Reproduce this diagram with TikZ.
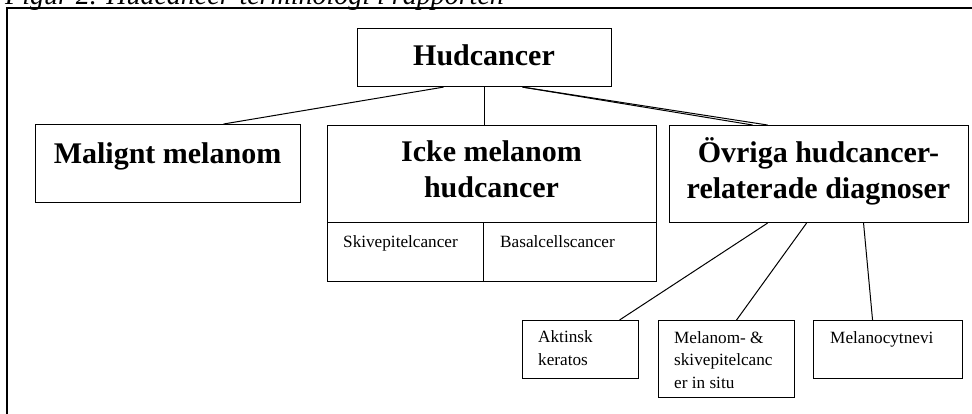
\documentclass[tikz,border=0pt]{standalone}
\usepackage{fontspec}
\setmainfont{Liberation Serif}
\usetikzlibrary{calc}
\newcommand\hbigtext{\fontsize{30}{35.5}\selectfont\bfseries}
\newcommand\hsmalltext{\fontsize{17.2}{22.5}\selectfont}
\newcommand\hcaptext{\fontsize{28}{32}\selectfont\itshape}
\tikzset{
  box/.style={draw, line width=1.1pt, rectangle, inner sep=0pt, anchor=north west},
  bigtxt/.style={font=\hbigtext, align=center, anchor=base, inner sep=0pt},
  smalltxt/.style={font=\hsmalltext, align=left, anchor=base west, inner sep=0pt},
  link/.style={line width=1pt},
  frame/.style={line width=1.7pt}
}
\begin{document}
\begin{tikzpicture}[x=1pt,y=-1pt]
\useasboundingbox (0,0) rectangle (972,413);
\clip (0,0) rectangle (972,413);
% caption (cut off at the top)
\node[font=\hcaptext, anchor=base west, inner sep=0pt] (cap) at (5,4) {Figur 2. Hudcancer-terminologi i rapporten};
% outer frame
\coordinate (fbl) at (7,430);
\coordinate (ftr) at (990,8);
\draw[frame] (fbl) |- (ftr);
% boxes
\node[box, minimum width=254pt, minimum height=58pt] (hud) at (357,28) {};
\node[box, minimum width=265pt, minimum height=78pt] (mal) at (35,124) {};
\node[box, minimum width=329pt, minimum height=97pt] (icke) at (327,125) {};
\node[box, minimum width=156pt, minimum height=59pt] (skive) at (327,222) {};
\node[box, minimum width=173pt, minimum height=59pt] (basal) at (483,222) {};
\node[box, minimum width=299pt, minimum height=97pt] (ovr) at (669,125) {};
\node[box, minimum width=116pt, minimum height=58pt] (akt) at (522,320) {};
\node[box, minimum width=136pt, minimum height=77pt] (mel) at (658,320) {};
\node[box, minimum width=149pt, minimum height=58pt] (nevi) at (813,320) {};
% texts (multi-line nodes: base = last line)
\node[bigtxt] (thud) at (484,65) {Hudcancer};
\node[bigtxt] (tmal) at (167.5,163) {Malignt melanom};
\node[bigtxt] (ticke) at (491.5,197) {Icke melanom\\hudcancer};
\node[bigtxt] (tovr) at (818.5,198) {Övriga hudcancer-\\relaterade diagnoser};
\node[smalltxt] (tskive) at (343,247) {Skivepitelcancer};
\node[smalltxt] (tbasal) at (500,247) {Basalcellscancer};
\node[smalltxt] (takt) at (538,365) {Aktinsk\\keratos};
\node[smalltxt] (tmel) at (674,388) {Melanom- \&\\skivepitelcanc\\er in situ};
\node[smalltxt] (tnevi) at (830,343) {Melanocytnevi};
% connectors
\draw[link] ([xshift=-41pt]hud.south) -- ([xshift=55.5pt]mal.north);
\draw[link] (hud.south) -- (icke.north -| hud.south);
\draw[link] ([xshift=38pt]hud.south) -- ([xshift=-51.5pt]ovr.north);
\draw[link] ([xshift=38pt]hud.south) -- ([xshift=-66.5pt]ovr.north);
\draw[link] ([xshift=-51.5pt]ovr.south) -- ([xshift=39pt]akt.north);
\draw[link] ([xshift=-12.5pt]ovr.south) -- ([xshift=10pt]mel.north);
\draw[link] ([xshift=44.5pt]ovr.south) -- ([xshift=-15.5pt]nevi.north);
\end{tikzpicture}
\end{document}
